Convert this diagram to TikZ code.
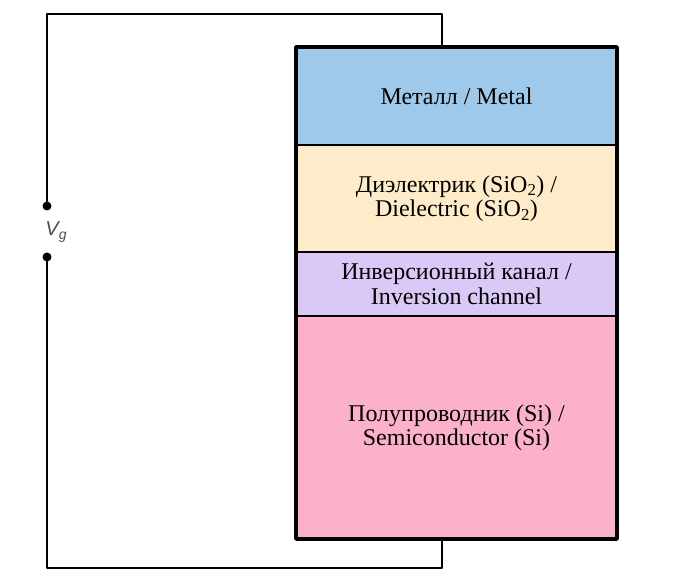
\documentclass[tikz,border=0pt]{standalone}
\usepackage{fontspec}
\setmainfont{Liberation Serif}
\newfontfamily\vgfont{Liberation Sans}
\usetikzlibrary{positioning}
\definecolor{metalc}{HTML}{9FC9EB}
\definecolor{oxidec}{HTML}{FDEBC9}
\definecolor{chanc}{HTML}{DAC9F6}
\definecolor{semic}{HTML}{FCB1CA}
\begin{document}
\begin{tikzpicture}[x=1pt, y=-1pt, line cap=round, line join=round,
    layer/.style={draw, line width=2pt, minimum width=321pt, outer sep=0pt,
      inner sep=2pt, align=center, font=\fontsize{24}{24.5}\selectfont},
    wire/.style={line width=2.3pt},
    term/.style={circle, fill=black, inner sep=0pt, minimum size=9pt}]
    \useasboundingbox (0,0) rectangle (673,585);
    % --- 層 ---
    \node[layer, fill=metalc, minimum height=98pt, anchor=north west] (metal) at (296,47) {Металл / Metal};
    \node[layer, fill=oxidec, minimum height=107pt, below=0pt of metal] (oxide) {Диэлектрик (SiO\textsubscript{2}) /\\Dielectric (SiO\textsubscript{2})};
    \node[layer, fill=chanc, minimum height=64pt, below=0pt of oxide] (chan) {Инверсионный канал /\\Inversion channel};
    \node[layer, fill=semic, minimum height=223pt, below=0pt of chan] (semi) {Полупроводник (Si) /\\Semiconductor (Si)};
    % 外枠
    \draw[line width=3.6pt] (metal.north west) rectangle (semi.south east);
    % --- 端子 ---
    \node[term] (tp) at (47,206) {};
    \node[term] (bt) at (47,257) {};
    \node[text=black!70, font=\vgfont\itshape\fontsize{20}{22}\selectfont] (vg) at (56,232) {V\raisebox{-0.4ex}{\fontsize{14}{16}\selectfont g}};
    % --- 配線 ---
    \coordinate (topc) at (442,14);
    \coordinate (botc) at (442,568);
    \draw[wire] (tp) |- (topc) -- (topc |- metal.north);
    \draw[wire] (bt) |- (botc) -- (botc |- semi.south);
\end{tikzpicture}
\end{document}
